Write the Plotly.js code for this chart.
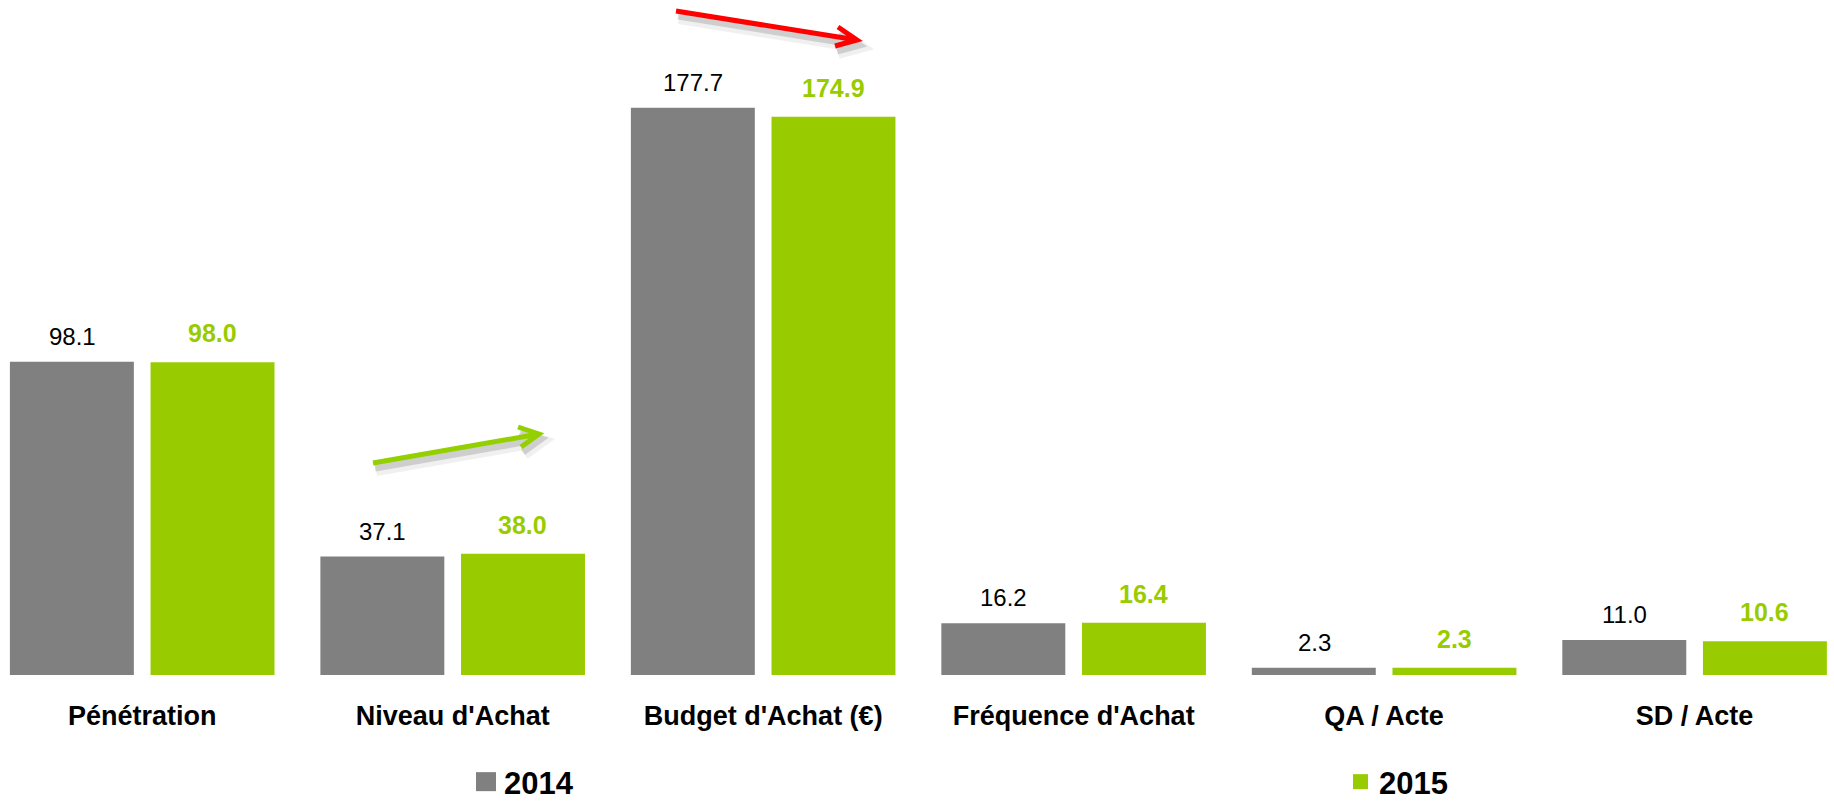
<!DOCTYPE html>
<html>
<head>
<meta charset="utf-8">
<script src="https://cdn.plot.ly/plotly-3.0.1.min.js"></script>
<style>html,body{margin:0;padding:0;background:#fff;}#chart{width:1834px;height:802px;}</style>
</head>
<body>
<div id="chart"></div>
<script>
// ---- data ----
const categories = ["Pénétration", "Niveau d'Achat", "Budget d'Achat (€)", "Fréquence d'Achat", "QA / Acte", "SD / Acte"];
const seriesNames = ["2014", "2015"];
const values2014 = [98.1, 37.1, 177.7, 16.2, 2.3, 11.0];
const values2015 = [98.0, 38.0, 174.9, 16.4, 2.3, 10.6];

// ---- style ----
const W = 1834, H = 802, MT = 20, MB = 127;
const GRAY = "#808080", GREEN = "#99CC00";
const FONT = "Liberation Sans, Arial, Helvetica, sans-serif";
const PX_PER_UNIT = 3.1925;
const yMax = (H - MT - MB) / PX_PER_UNIT;

const px = x => x / W;
const py = y => (H - MB - y) / (H - MT - MB);

const traces = [
  {type: "bar", name: seriesNames[0], x: categories, y: values2014,
   marker: {color: GRAY}, hoverinfo: "none", legend: "legend"},
  {type: "bar", name: seriesNames[1], x: categories, y: values2015,
   marker: {color: GREEN}, hoverinfo: "none", legend: "legend2"}
];

const annotations = [];
categories.forEach((c, i) => {
  annotations.push({x: c, y: values2014[i], xref: "x", yref: "y", text: values2014[i].toFixed(1),
    showarrow: false, xanchor: "center", yanchor: "bottom", xshift: -70, yshift: 10,
    font: {family: FONT, size: 24, color: "#000000"}});
  annotations.push({x: c, y: values2015[i], xref: "x", yref: "y", text: values2015[i].toFixed(1),
    showarrow: false, xanchor: "center", yanchor: "bottom", xshift: 70, yshift: 13,
    font: {family: FONT, size: 25, color: GREEN, weight: "bold"}});
});

function arrowPath(x0, y0, x1, y1, a1x, a1y, a2x, a2y, dx, dy) {
  dx = dx || 0; dy = dy || 0;
  const P = (x, y) => px(x + dx) + "," + py(y + dy);
  return "M" + P(x0, y0) + " L" + P(x1, y1) + " M" + P(a1x, a1y) + " L" + P(x1, y1) + " L" + P(a2x, a2y);
}
const greenArrow = [373, 463, 539, 434, 518, 427, 521, 447];
const redArrow = [676, 11, 857, 40, 838, 27, 835, 46];
const shapes = [];
[[greenArrow, "#94D000"], [redArrow, "#FF0000"]].forEach(([a, col]) => {
  shapes.push({type: "path", xref: "paper", yref: "paper", layer: "above",
    path: arrowPath(...a, 3, 7), line: {color: "rgba(0,0,0,0.06)", width: 12}});
  shapes.push({type: "path", xref: "paper", yref: "paper", layer: "above",
    path: arrowPath(...a, 2, 5), line: {color: "rgba(0,0,0,0.14)", width: 7}});
  shapes.push({type: "path", xref: "paper", yref: "paper", layer: "above",
    path: arrowPath(...a), line: {color: col, width: 5}});
});

const legendBase = {orientation: "h", xanchor: "left", yanchor: "middle", y: py(782),
  font: {family: FONT, size: 31, color: "#000", weight: "bold"}, bgcolor: "rgba(0,0,0,0)",
  borderwidth: 0, itemclick: false};

const layout = {
  width: W, height: H,
  margin: {l: 0, r: 0, t: MT, b: MB, autoexpand: false},
  paper_bgcolor: "#fff", plot_bgcolor: "#fff",
  barmode: "group", bargap: 0.094, bargroupgap: 0.1187,
  font: {family: FONT},
  xaxis: {type: "category", range: [-0.458, 5.449], showgrid: false, zeroline: false, showline: false,
    ticks: "", ticklabelstandoff: 22, fixedrange: true,
    tickfont: {family: FONT, size: 27, color: "#000", weight: "bold"}},
  yaxis: {range: [0, yMax], visible: false, showgrid: false, zeroline: false, fixedrange: true},
  showlegend: true,
  legend: Object.assign({}, legendBase, {x: px(464)}),
  legend2: Object.assign({}, legendBase, {x: px(1339)}),
  annotations: annotations,
  shapes: shapes
};

// larger legend swatches, as in the reference
const swatchPaths = {legend: "M12,9.5H-8V-9.5H12Z", legend2: "M9,7.5H-6V-7.5H9Z"};

Plotly.newPlot("chart", traces, layout, {displayModeBar: false, staticPlot: true}).then(gd => {
  Object.keys(swatchPaths).forEach(cls => {
    gd.querySelectorAll("g." + cls + " .legendpoints path").forEach(p => p.setAttribute("d", swatchPaths[cls]));
  });
});
</script>
</body>
</html>
